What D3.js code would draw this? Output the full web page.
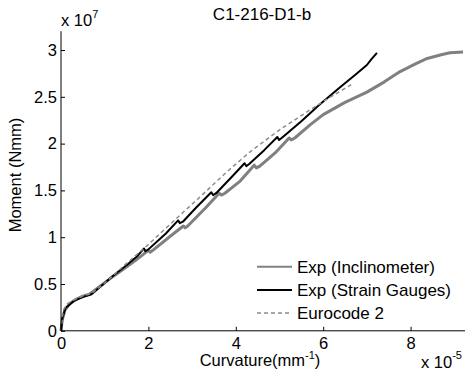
<!DOCTYPE html>
<html><head><meta charset="utf-8">
<script src="https://cdn.jsdelivr.net/npm/d3@7"></script>
<style>body{margin:0;background:#fff}svg{display:block}text{font-family:"Liberation Sans",Arial,sans-serif}</style>
</head><body><svg id="c" width="465" height="385"></svg>
<script>
// curvature in units of 1e-5 mm^-1, moment in units of 1e7 Nmm
const inclCurv = [0,0.03,0.09,0.2,0.32,0.5,0.65,0.85,1.1,1.4,1.7,2.0,2.04,2.1,2.5,2.8,2.84,2.9,3.3,3.62,3.67,3.75,4.1,4.42,4.47,4.55,4.9,5.22,5.27,5.35,5.7,6.0,6.5,7.0,7.4,7.76,8.1,8.38,8.7,8.9,9.2];
const inclMom  = [0,0.12,0.22,0.29,0.33,0.37,0.39,0.46,0.55,0.65,0.75,0.86,0.84,0.86,1.01,1.12,1.10,1.12,1.31,1.47,1.45,1.47,1.60,1.77,1.74,1.76,1.90,2.06,2.04,2.06,2.20,2.31,2.44,2.55,2.66,2.77,2.85,2.91,2.95,2.97,2.98];
const sgCurv = [0,0.03,0.1,0.3,0.5,0.7,0.9,1.2,1.5,1.75,1.9,1.93,2.0,2.4,2.68,2.72,2.8,3.1,3.44,3.48,3.55,3.9,4.2,4.24,4.3,4.65,4.95,4.99,5.05,5.5,5.9,6.38,6.77,7.0,7.1,7.23];
const sgMom  = [0,0.13,0.24,0.32,0.36,0.39,0.47,0.59,0.70,0.80,0.88,0.85,0.87,1.04,1.18,1.15,1.17,1.32,1.48,1.45,1.47,1.64,1.79,1.76,1.78,1.93,2.07,2.04,2.06,2.24,2.41,2.60,2.75,2.84,2.90,2.97];
const ecCurv = [0,0.05,0.15,0.3,0.5,0.7,1.0,1.5,1.97,2.5,3.18,3.8,4.32,5.01,5.5,6.0,6.64];
const ecMom  = [0,0.22,0.29,0.33,0.37,0.40,0.51,0.72,0.91,1.14,1.43,1.70,1.91,2.15,2.30,2.45,2.63];
const xTicks = [0,2,4,6,8];
const yTicks = [0,0.5,1,1.5,2,2.5,3];
const yTickLabels = ["0","0.5","1","1.5","2","2.5","3"];
const seriesNames = ["Exp (Inclinometer)","Exp (Strain Gauges)","Eurocode 2"];
const titleText = "C1-216-D1-b";

const svg = d3.select("#c");
const x = d3.scaleLinear().domain([0,9.245]).range([61,465]);
const y = d3.scaleLinear().domain([0,3.2]).range([330.8,31.3]);
const fs = 16.5, fsL = 17;

const styles = [
  {stroke:"#808080", w:3, dash:null, lw:2},
  {stroke:"#000000", w:2, dash:null, lw:2},
  {stroke:"#8c8c8c", w:1.5, dash:"4,3", lw:1.5}
];
const series = [
  d3.zip(inclCurv, inclMom),
  d3.zip(sgCurv, sgMom),
  d3.zip(ecCurv, ecMom)
];
const line = d3.line().x(d=>x(d[0])).y(d=>y(d[1]));
[0,1,2].forEach(i=>{
  svg.append("path").datum(series[i]).attr("d",line)
    .attr("fill","none").attr("stroke",styles[i].stroke).attr("stroke-width",styles[i].w)
    .attr("stroke-linejoin","round").attr("stroke-dasharray",styles[i].dash);
});

// axes
const xAxis = d3.axisBottom(x).tickValues(xTicks).tickSize(-4).tickFormat(d3.format("d"));
const gx = svg.append("g").attr("transform","translate(0,330.8)").call(xAxis);
const yAxis = d3.axisLeft(y).tickValues(yTicks).tickSize(-4).tickFormat((d,i)=>yTickLabels[i]);
const gy = svg.append("g").attr("transform","translate(61,0)").call(yAxis);
[gx,gy].forEach(g=>{
  g.select(".domain").attr("stroke","#000").attr("stroke-width",1);
  g.selectAll(".tick line").attr("stroke","#000");
  g.selectAll(".tick text").attr("font-size",fs).attr("fill","#000").style("font-family","Liberation Sans, Arial, sans-serif");
});
gx.select(".domain").attr("d","M61,0H465");
gy.select(".domain").attr("d","M0,330.8V31.3");
gx.selectAll(".tick text").attr("y",18.5).attr("dy",0);
gy.selectAll(".tick text").attr("x",-4);

// title
svg.append("text").attr("x",262).attr("y",20).attr("text-anchor","middle").attr("font-size",fsL).text(titleText);
// y exponent
const ye = svg.append("text").attr("x",61).attr("y",26).attr("font-size",fs);
ye.append("tspan").text("x 10");
ye.append("tspan").attr("dy",-8).attr("font-size",11).text("7");
// x exponent
const xe = svg.append("text").attr("x",421).attr("y",368).attr("font-size",fs);
xe.append("tspan").text("x 10");
xe.append("tspan").attr("dy",-9).attr("font-size",11).text("-5");
// x label
const xl = svg.append("text").attr("x",260).attr("y",366).attr("text-anchor","middle").attr("font-size",fs);
xl.append("tspan").text("Curvature(mm");
xl.append("tspan").attr("dy",-7).attr("font-size",11).text("-1");
xl.append("tspan").attr("dy",7).text(")");
// y label
svg.append("text").attr("transform","translate(21,175) rotate(-90)").attr("text-anchor","middle").attr("font-size",fs).text("Moment (Nmm)");

// legend
const legY = [266.7,290,313];
seriesNames.forEach((n,i)=>{
  svg.append("line").attr("x1",257).attr("x2",292).attr("y1",legY[i]).attr("y2",legY[i])
    .attr("stroke",styles[i].stroke).attr("stroke-width",styles[i].lw).attr("stroke-dasharray",styles[i].dash);
  svg.append("text").attr("x",297).attr("y",legY[i]+6).attr("font-size",fsL).text(n);
});
</script></body></html>
